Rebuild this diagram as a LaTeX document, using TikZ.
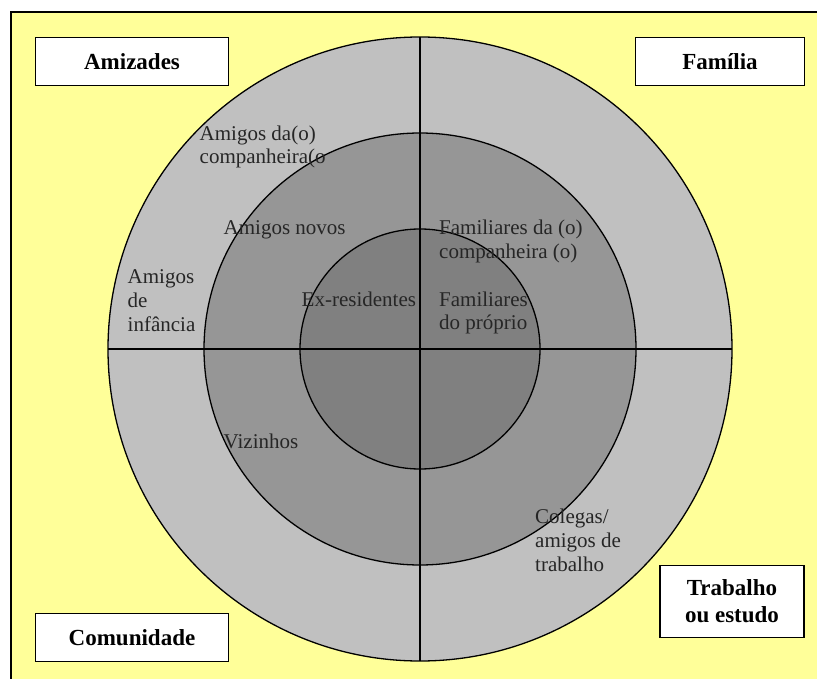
\documentclass[tikz,border=0pt]{standalone}
\usepackage{fontspec}
\setmainfont{Liberation Serif}
\definecolor{bgyellow}{HTML}{FFFF99}
\definecolor{ringout}{HTML}{C0C0C0}
\definecolor{ringmid}{HTML}{969696}
\definecolor{ringin}{HTML}{808080}
\definecolor{txtgrey}{HTML}{262626}
\begin{document}
\begin{tikzpicture}[x=1pt,y=-1pt,
  ring/.style={draw=black,line width=1.3pt},
  axis/.style={draw=black,line width=1.3pt},
  catbox/.style={draw=black,fill=white,line width=1.3pt,inner sep=0pt,
    font=\fontsize{23}{26.5}\selectfont\bfseries,align=center},
  lbl/.style={inner sep=0pt,anchor=base west,text=txtgrey,align=left,
    font=\fontsize{21}{23.8}\selectfont}]
\useasboundingbox (0,0) rectangle (817,679);
\fill[white] (0,0) rectangle (817,679);
\draw[fill=bgyellow,line width=1.3pt] (11,12) rectangle (830,692);
% rings
\coordinate (c) at (420,349);
\draw[ring,fill=ringout] (c) circle[radius=312pt];
\draw[ring,fill=ringmid] (c) circle[radius=216pt];
\draw[ring,fill=ringin] (c) circle[radius=120pt];
\coordinate (w) at (108,349);
\coordinate (e) at (732,349);
\coordinate (n) at (420,37);
\coordinate (s) at (420,661);
\draw[axis] (w) -- (e);
\draw[axis] (n) -- (s);
% category boxes
\node[catbox,minimum width=193pt,minimum height=48pt] (amiz) at (132,61.5) {Amizades};
\node[catbox,minimum width=169pt,minimum height=48pt] (fam) at (720,61.5) {Família};
\node[catbox,minimum width=193pt,minimum height=48pt] (com) at (132,637.5) {Comunidade};
\node[catbox,minimum width=144pt,minimum height=72pt] (trab) at (732,601.3) {Trabalho\\ou estudo};
% labels (anchor = baseline of the last line)
\node[lbl] (ac) at (199.5,164) {Amigos da(o)\\companheira(o};
\node[lbl] (an) at (223.5,235) {Amigos novos};
\node[lbl] (ai) at (127.5,331.5) {Amigos\\de\\infância};
\node[lbl] (ex) at (301.5,306.5) {Ex-residentes};
\node[lbl] (fc) at (439,258.5) {Familiares da (o)\\companheira (o)};
\node[lbl] (fp) at (439,330) {Familiares\\do próprio};
\node[lbl] (vz) at (223.5,448.5) {Vizinhos};
\node[lbl] (cg) at (535,571) {Colegas/\\amigos de\\trabalho};
\end{tikzpicture}
\end{document}
